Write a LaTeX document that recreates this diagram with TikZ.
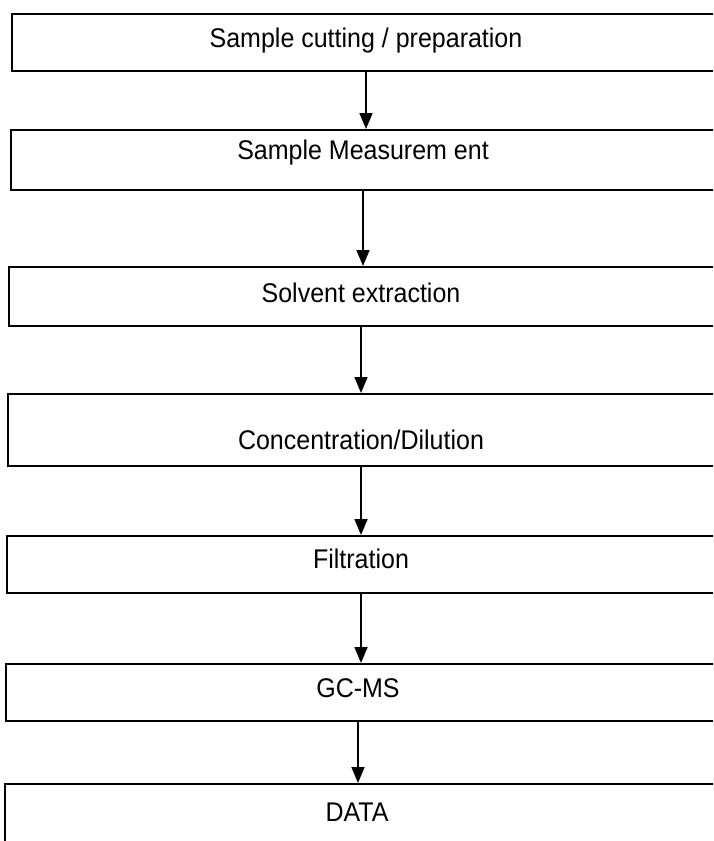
\documentclass[tikz,border=0pt]{standalone}
\usepackage{fontspec}
\setmainfont{Liberation Sans}
\usetikzlibrary{arrows.meta}
\begin{document}
\begin{tikzpicture}[x=1pt,y=-1pt,
  stepbox/.style={draw=black,line width=2pt,rectangle,anchor=north west,minimum width=820pt,inner sep=0pt},
  steplabel/.style={font=\fontsize{25}{30}\selectfont,inner sep=0pt,anchor=center,yscale=1.08},
  flow/.style={line width=1.7pt,-{Triangle[width=13pt,length=16pt]}}]
\useasboundingbox (0,0) rectangle (713,841);
\clip (0,0) rectangle (713,841);
\fill[white] (0,0) rectangle (713,841);
\node[stepbox,minimum height=57pt] (b1) at (11,13) {};
\node[stepbox,minimum height=60pt] (b2) at (10,129) {};
\node[stepbox,minimum height=59pt] (b3) at (8,266) {};
\node[stepbox,minimum height=72pt] (b4) at (7,393) {};
\node[stepbox,minimum height=57pt] (b5) at (6,535) {};
\node[stepbox,minimum height=57pt] (b6) at (5,663) {};
\node[stepbox,minimum height=80pt] (b7) at (4,783) {};
\node[steplabel] (t1) at (366,41) {Sample cutting / preparation};
\node[steplabel] (t2) at (363,153) {Sample Measurem ent};
\node[steplabel] (t3) at (361,293) {Solvent extraction};
\node[steplabel] (t4) at (361,440) {Concentration/Dilution};
\node[steplabel] (t5) at (361,559) {Filtration};
\node[steplabel] (t6) at (358,688) {GC-MS};
\node[steplabel] (t7) at (357,812) {DATA};
\draw[flow] (t1 |- b1.south) -- (t1 |- b2.north);
\draw[flow] (t2 |- b2.south) -- (t2 |- b3.north);
\draw[flow] (t3 |- b3.south) -- (t3 |- b4.north);
\draw[flow] (t4 |- b4.south) -- (t4 |- b5.north);
\draw[flow] (t5 |- b5.south) -- (t5 |- b6.north);
\draw[flow] (t6 |- b6.south) -- (t6 |- b7.north);
\end{tikzpicture}
\end{document}
